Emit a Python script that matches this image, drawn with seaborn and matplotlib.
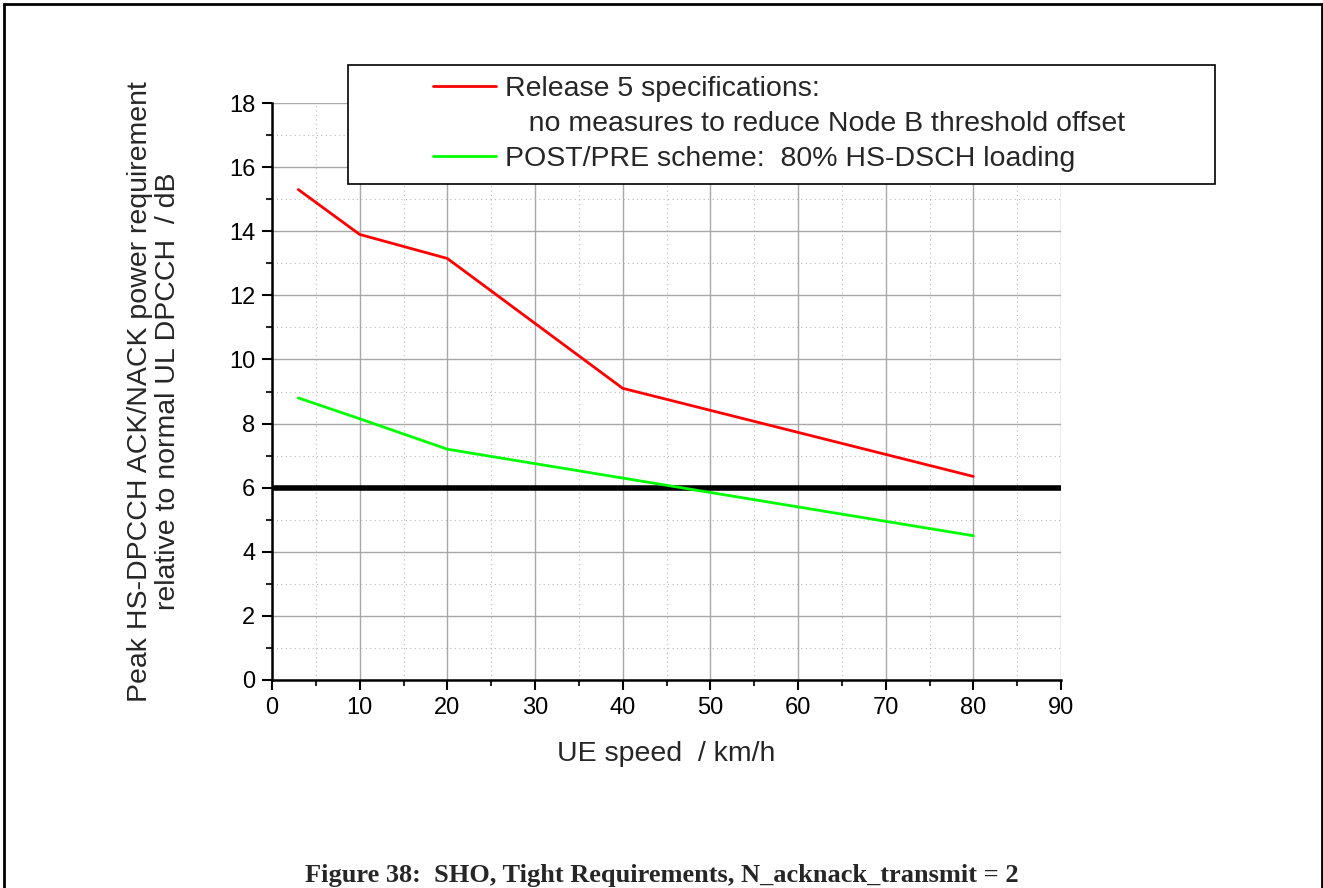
import numpy as np
import pandas as pd
import matplotlib.pyplot as plt
import seaborn as sns
from matplotlib.lines import Line2D
from matplotlib.patches import Rectangle
from matplotlib.ticker import MultipleLocator


# values
speed = [3, 10, 20, 40, 80]
rel5 = [15.3, 13.9, 13.15, 9.1, 6.35]
post_pre = [8.8, 8.15, 7.2, 6.3, 4.5]
threshold = 6

rel5_label = "Release 5 specifications:"
rel5_label2 = "   no measures to reduce Node B threshold offset"
post_pre_label = "POST/PRE scheme:  80% HS-DSCH loading"

df = pd.DataFrame({
    "speed": speed * 2,
    "power": rel5 + post_pre,
    "scheme": [rel5_label] * len(speed) + [post_pre_label] * len(speed),
})

sns.set_style("white")
plt.rcParams["font.family"] = ["Liberation Sans", "DejaVu Sans"]

W, H = 1323, 888
fig = plt.figure(figsize=(W / 100, H / 100), dpi=100)
ax = fig.add_axes([272 / W, 1 - 680 / H, (1061 - 272) / W, (680 - 103) / H])

ax.axhline(threshold, color="black", lw=4, zorder=3)
sns.lineplot(data=df, x="speed", y="power", hue="scheme",
             palette=["#ff0000", "#00ff00"], lw=2, legend=False, ax=ax, zorder=4)

ax.set_xlim(0, 90)
ax.set_ylim(0, 18)
ax.xaxis.set_major_locator(MultipleLocator(10))
ax.xaxis.set_minor_locator(MultipleLocator(5))
ax.yaxis.set_major_locator(MultipleLocator(2))
ax.yaxis.set_minor_locator(MultipleLocator(1))

ax.grid(which="major", color="#a8a8a8", lw=1.0, ls="-")
ax.grid(which="minor", color="#b8b8b8", lw=0.8, ls=(0, (1, 3)))
ax.set_axisbelow(True)

for s in ["top", "right"]:
    ax.spines[s].set_visible(False)
for s in ["left", "bottom"]:
    ax.spines[s].set_linewidth(1.8)
    ax.spines[s].set_color("black")

ax.tick_params(which="major", direction="out", length=7, width=1.5,
               labelsize=17, pad=5, colors="black", left=True, bottom=True)
ax.tick_params(which="minor", direction="out", length=4, width=1.5,
               left=True, bottom=True)

ax.set_xlabel("UE speed  / km/h", fontsize=20.5, labelpad=16)
ax.set_ylabel("Peak HS-DPCCH ACK/NACK power requirement\nrelative to normal UL DPCCH  / dB",
              fontsize=20.5, linespacing=1.1)
ax.yaxis.set_label_coords((181 - 272) / (1061 - 272), 0.5)

# legend box drawn as its own frame, entries placed inside it
fig.patches.append(Rectangle((348 / W, 1 - 184 / H), (1215 - 348) / W, (184 - 65) / H,
                             transform=fig.transFigure, fill=True, facecolor="white",
                             edgecolor="black", lw=1.2, zorder=5))
handles = [ax.lines[1], Line2D([], [], color="none"), ax.lines[2]]
labels = [rel5_label, rel5_label2, post_pre_label]
leg = fig.legend(handles, labels, loc="upper left",
                 bbox_to_anchor=(433 / W, 1 - 76 / H), bbox_transform=fig.transFigure,
                 frameon=False, fontsize=20.5, handlelength=2.2, handletextpad=0.32,
                 labelspacing=0.32, borderpad=0, borderaxespad=0)
leg.set_zorder(6)

fig.text(0.5, 1 - 882 / H, "Figure 38:  SHO, Tight Requirements, N_acknack_transmit = 2",
         ha="center", va="baseline", fontsize=19, fontweight="bold",
         family=["Liberation Serif", "DejaVu Serif"])

# page frame around the whole figure
fig.patches.append(Rectangle((4 / W, -0.05), (1322 - 4) / W, 1.05 - 4 / H,
                             transform=fig.transFigure, fill=False,
                             edgecolor="black", lw=2, zorder=1))

fig.savefig("out.png", dpi=100)
